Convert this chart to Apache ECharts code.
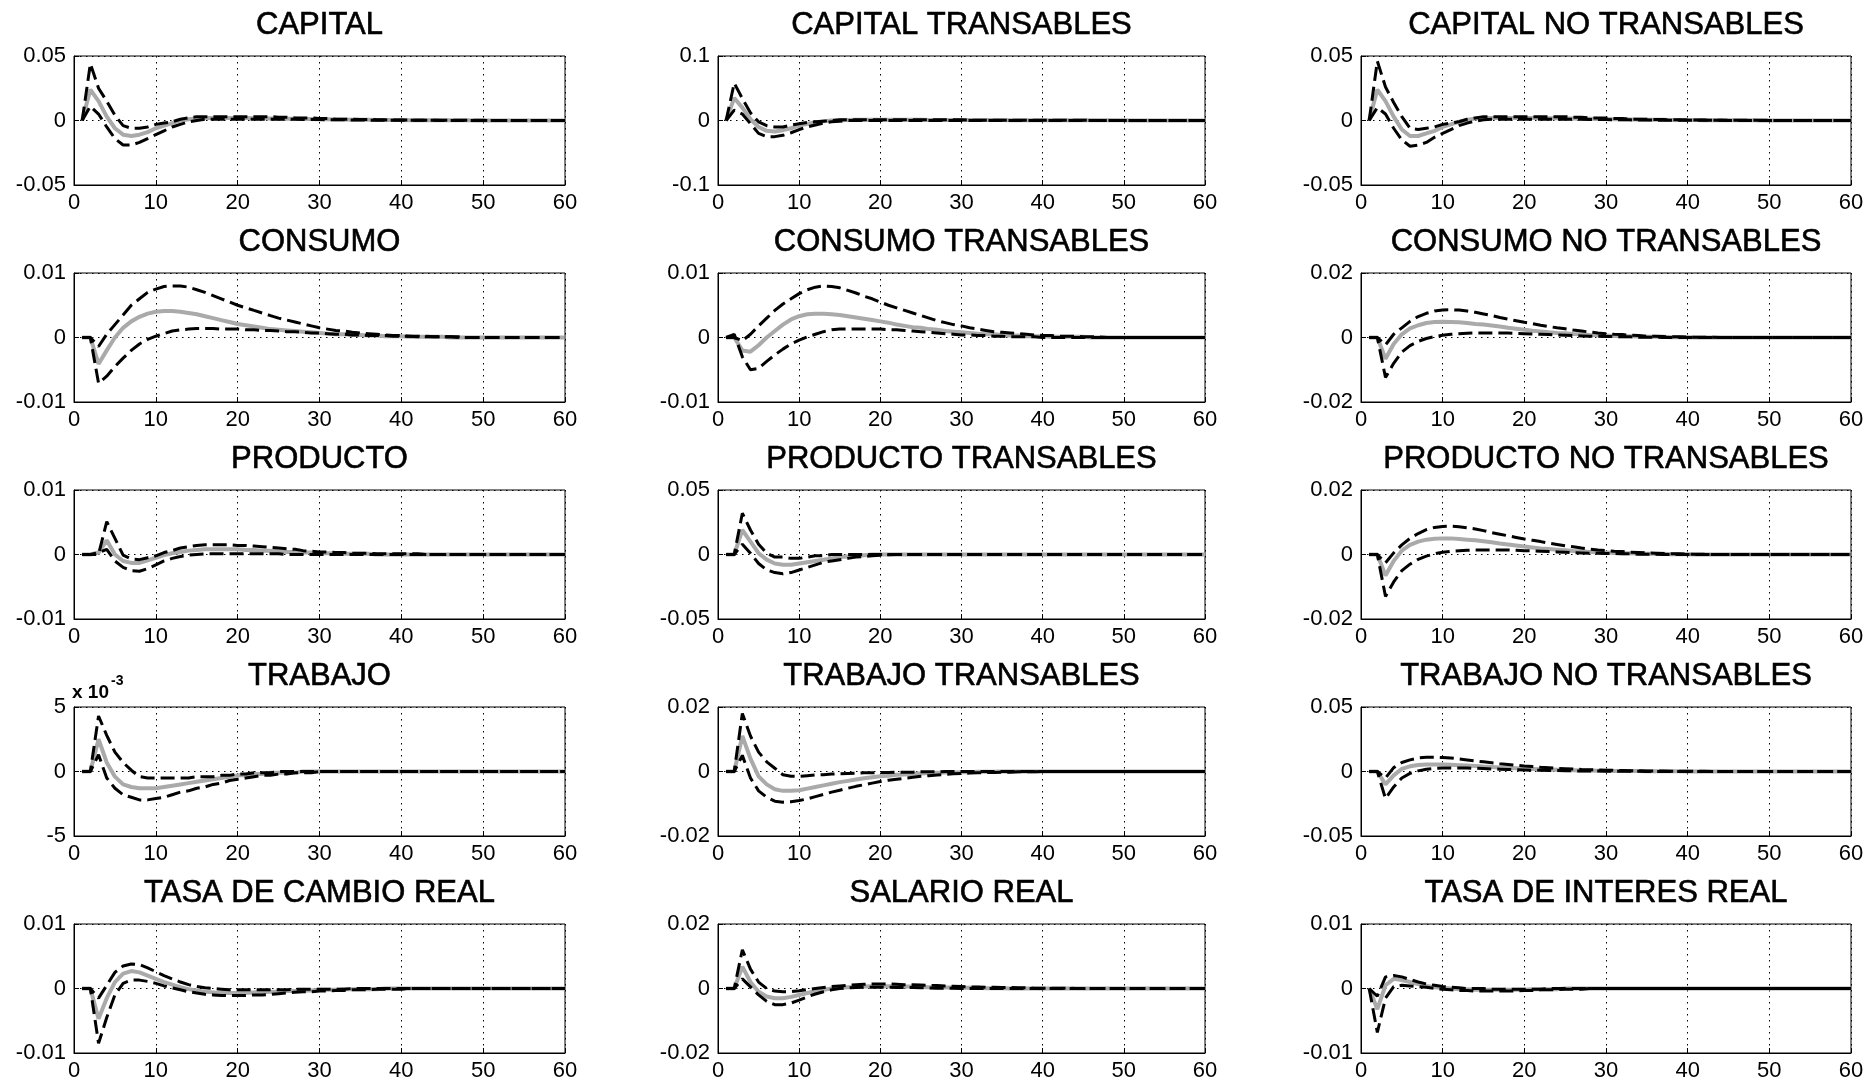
<!DOCTYPE html>
<html>
<head>
<meta charset="utf-8">
<title>Impulso-respuesta</title>
<script src="https://cdn.jsdelivr.net/npm/echarts@6/dist/echarts.min.js"></script>
<style>
  html, body { margin: 0; padding: 0; background: #fff; }
  #main { width: 1866px; height: 1083px; }
</style>
</head>
<body>
<div id="main"></div>
<script>
// periodos despues del choque
var periods = [
  1, 2, 3, 4, 5, 6, 7, 8, 9, 10,
  11, 12, 13, 14, 15, 16, 17, 18, 19, 20,
  21, 22, 23, 24, 25, 26, 27, 28, 29, 30,
  31, 32, 33, 34, 35, 36, 37, 38, 39, 40,
  41, 42, 43, 44, 45, 46, 47, 48, 49, 50,
  51, 52, 53, 54, 55, 56, 57, 58, 59, 60
];

// etiquetas de los ejes
var xTicks = ['0', '10', '20', '30', '40', '50', '60'];
var ticks005 = ['-0.05', '0', '0.05'];
var ticks01 = ['-0.1', '0', '0.1'];
var ticks001 = ['-0.01', '0', '0.01'];
var ticks002 = ['-0.02', '0', '0.02'];
var ticksE3 = ['-5', '0', '5'];

// CAPITAL
var capitalHi = [
  0, 0.044, 0.025, 0.015, 0.004, -0.004, -0.006, -0.006, -0.005, -0.003,
  -0.002, -0.001, 0.001, 0.002, 0.003, 0.003, 0.003, 0.003, 0.003, 0.003,
  0.003, 0.003, 0.003, 0.003, 0.0025, 0.0025, 0.002, 0.002, 0.002, 0.0015,
  0.0015, 0.001, 0.001, 0.001, 0.0008, 0.0008, 0.0006, 0.0005, 0.0004, 0.0003,
  0.0003, 0.0002, 0.0002, 0.0002, 0.0001, 0.0001, 0.0001, 0.0001, 0.0001, 0.0001,
  0, 0, 0, 0, 0, 0, 0, 0, 0, 0
];
var capitalMd = [
  0, 0.024, 0.015, 0.003, -0.006, -0.011, -0.012, -0.011, -0.009, -0.006,
  -0.004, -0.002, 0, 0.001, 0.0015, 0.002, 0.002, 0.002, 0.002, 0.002,
  0.002, 0.0018, 0.0017, 0.0016, 0.0015, 0.0014, 0.0013, 0.0012, 0.0011, 0.001,
  0.0009, 0.0008, 0.0007, 0.0006, 0.0006, 0.0005, 0.0004, 0.0004, 0.0003, 0.0003,
  0.0002, 0.0002, 0.0002, 0.0001, 0.0001, 0.0001, 0.0001, 0.0001, 0, 0,
  0, 0, 0, 0, 0, 0, 0, 0, 0, 0
];
var capitalLo = [
  0, 0.011, 0.005, -0.005, -0.014, -0.019, -0.019, -0.017, -0.014, -0.011,
  -0.008, -0.005, -0.003, -0.001, 0, 0.001, 0.001, 0.001, 0.001, 0.001,
  0.001, 0.001, 0.001, 0.001, 0.001, 0.001, 0.001, 0.0008, 0.0008, 0.0007,
  0.0006, 0.0005, 0.0005, 0.0004, 0.0003, 0.0003, 0.0002, 0.0002, 0.0002, 0.0001,
  0.0001, 0.0001, 0.0001, 0.0001, 0, 0, 0, 0, 0, 0,
  0, 0, 0, 0, 0, 0, 0, 0, 0, 0
];

// CAPITAL TRANSABLES
var capTHi = [
  0, 0.058, 0.034, 0.012, -0.002, -0.008, -0.01, -0.01, -0.007, -0.005,
  -0.003, -0.002, -0.001, 0, 0.001, 0.001, 0.001, 0.001, 0.001, 0.001,
  0.001, 0.001, 0.001, 0.001, 0.001, 0.001, 0.001, 0.001, 0.001, 0.001,
  0.0005, 0.0005, 0.0005, 0.0005, 0.0005, 0.0005, 0.0005, 0.0005, 0.0005, 0.0005,
  0.0005, 0.0005, 0.0005, 0.0005, 0.0005, 0, 0, 0, 0, 0,
  0, 0, 0, 0, 0, 0, 0, 0, 0, 0
];
var capTMd = [
  0, 0.035, 0.02, 0.002, -0.01, -0.016, -0.017, -0.015, -0.012, -0.008,
  -0.005, -0.003, -0.001, 0, 0.0005, 0.0008, 0.001, 0.001, 0.001, 0.001,
  0.001, 0.001, 0.001, 0.001, 0.001, 0.0008, 0.0008, 0.0008, 0.0008, 0.0008,
  0.0006, 0.0006, 0.0006, 0.0006, 0.0006, 0.0004, 0.0004, 0.0004, 0.0004, 0.0004,
  0.0003, 0.0003, 0.0003, 0.0003, 0.0003, 0.0002, 0.0002, 0.0002, 0.0002, 0.0002,
  0.0001, 0.0001, 0.0001, 0.0001, 0.0001, 0, 0, 0, 0, 0
];
var capTLo = [
  0, 0.016, 0.01, -0.005, -0.02, -0.025, -0.025, -0.023, -0.019, -0.014,
  -0.01, -0.007, -0.004, -0.002, -0.001, 0, 0, 0, 0, 0,
  0, 0, 0, 0, 0, 0, 0, 0, 0, 0,
  0, 0, 0, 0, 0, 0, 0, 0, 0, 0,
  0, 0, 0, 0, 0, 0, 0, 0, 0, 0,
  0, 0, 0, 0, 0, 0, 0, 0, 0, 0
];

// CAPITAL NO TRANSABLES
var capNHi = [
  0, 0.046, 0.026, 0.014, 0.003, -0.006, -0.007, -0.006, -0.005, -0.003,
  -0.002, -0.001, 0.001, 0.002, 0.003, 0.003, 0.003, 0.003, 0.003, 0.003,
  0.003, 0.003, 0.003, 0.003, 0.003, 0.0025, 0.0025, 0.002, 0.002, 0.002,
  0.0015, 0.0015, 0.001, 0.001, 0.001, 0.0008, 0.0007, 0.0006, 0.0005, 0.0004,
  0.0003, 0.0003, 0.0002, 0.0002, 0.0002, 0.0001, 0.0001, 0.0001, 0.0001, 0.0001,
  0, 0, 0, 0, 0, 0, 0, 0, 0, 0
];
var capNMd = [
  0, 0.024, 0.015, 0.003, -0.007, -0.012, -0.012, -0.01, -0.008, -0.005,
  -0.003, -0.001, 0.0005, 0.0015, 0.002, 0.002, 0.002, 0.002, 0.002, 0.002,
  0.002, 0.0019, 0.0018, 0.0017, 0.0016, 0.0015, 0.0014, 0.0013, 0.0012, 0.0011,
  0.001, 0.0009, 0.0008, 0.0007, 0.0006, 0.0005, 0.0005, 0.0004, 0.0004, 0.0003,
  0.0003, 0.0002, 0.0002, 0.0002, 0.0001, 0.0001, 0.0001, 0.0001, 0, 0,
  0, 0, 0, 0, 0, 0, 0, 0, 0, 0
];
var capNLo = [
  0, 0.01, 0.005, -0.006, -0.015, -0.02, -0.019, -0.017, -0.013, -0.01,
  -0.007, -0.004, -0.002, -0.0005, 0.0005, 0.001, 0.001, 0.001, 0.001, 0.001,
  0.001, 0.001, 0.001, 0.001, 0.001, 0.001, 0.0009, 0.0008, 0.0008, 0.0007,
  0.0006, 0.0005, 0.0005, 0.0004, 0.0003, 0.0003, 0.0002, 0.0002, 0.0002, 0.0001,
  0.0001, 0.0001, 0.0001, 0.0001, 0, 0, 0, 0, 0, 0,
  0, 0, 0, 0, 0, 0, 0, 0, 0, 0
];

// CONSUMO
var consHi = [
  0, 0, -0.0014, 0.0005, 0.002, 0.0035, 0.005, 0.006, 0.007, 0.0075,
  0.0079, 0.008, 0.008, 0.0078, 0.0074, 0.007, 0.0065, 0.006, 0.0055, 0.005,
  0.0046, 0.0042, 0.0038, 0.0034, 0.003, 0.0027, 0.0024, 0.0021, 0.0018, 0.0015,
  0.0013, 0.0011, 0.001, 0.0008, 0.0007, 0.0006, 0.0005, 0.0004, 0.0003, 0.0003,
  0.0002, 0.0002, 0.0002, 0.0001, 0.0001, 0.0001, 0.0001, 0, 0, 0,
  0, 0, 0, 0, 0, 0, 0, 0, 0, 0
];
var consMd = [
  0, 0, -0.0041, -0.002, 0, 0.0015, 0.0025, 0.0032, 0.0037, 0.004,
  0.0041, 0.0041, 0.004, 0.0038, 0.0036, 0.0033, 0.003, 0.0027, 0.0024, 0.0021,
  0.0019, 0.0017, 0.0015, 0.0013, 0.0012, 0.0011, 0.001, 0.0009, 0.0008, 0.0007,
  0.0006, 0.0005, 0.0005, 0.0004, 0.0004, 0.0003, 0.0003, 0.0002, 0.0002, 0.0002,
  0.0001, 0.0001, 0.0001, 0.0001, 0.0001, 0, 0, 0, 0, 0,
  0, 0, 0, 0, 0, 0, 0, 0, 0, 0
];
var consLo = [
  0, 0, -0.0071, -0.006, -0.0045, -0.0032, -0.002, -0.001, -0.0003, 0.0002,
  0.0006, 0.001, 0.0012, 0.0013, 0.0014, 0.0014, 0.0014, 0.0013, 0.0013, 0.0013,
  0.0012, 0.0012, 0.0011, 0.0011, 0.001, 0.0009, 0.0009, 0.0008, 0.0007, 0.0007,
  0.0006, 0.0005, 0.0005, 0.0004, 0.0004, 0.0003, 0.0003, 0.0003, 0.0002, 0.0002,
  0.0002, 0.0001, 0.0001, 0.0001, 0.0001, 0.0001, 0, 0, 0, 0,
  0, 0, 0, 0, 0, 0, 0, 0, 0, 0
];

// CONSUMO TRANSABLES
var consTHi = [
  0, 0, -0.0005, 0.0005, 0.0018, 0.003, 0.0042, 0.0052, 0.006, 0.0068,
  0.0074, 0.0078, 0.008, 0.0079, 0.0077, 0.0073, 0.0069, 0.0064, 0.006, 0.0055,
  0.005, 0.0046, 0.0042, 0.0038, 0.0034, 0.003, 0.0026, 0.0023, 0.002, 0.0018,
  0.0015, 0.0013, 0.0011, 0.0009, 0.0008, 0.0007, 0.0006, 0.0005, 0.0004, 0.0003,
  0.0003, 0.0002, 0.0002, 0.0002, 0.0001, 0.0001, 0.0001, 0, 0, 0,
  0, 0, 0, 0, 0, 0, 0, 0, 0, 0
];
var consTMd = [
  0, 0, -0.002, -0.0022, -0.0012, 0, 0.001, 0.002, 0.0028, 0.0033,
  0.0036, 0.0037, 0.0037, 0.0036, 0.0035, 0.0033, 0.0031, 0.0029, 0.0027, 0.0025,
  0.0023, 0.002, 0.0018, 0.0016, 0.0015, 0.0013, 0.0012, 0.001, 0.0009, 0.0008,
  0.0007, 0.0006, 0.0005, 0.0005, 0.0004, 0.0003, 0.0003, 0.0002, 0.0002, 0.0002,
  0.0001, 0.0001, 0.0001, 0.0001, 0.0001, 0, 0, 0, 0, 0,
  0, 0, 0, 0, 0, 0, 0, 0, 0, 0
];
var consTLo = [
  0, 0.0005, -0.003, -0.005, -0.0048, -0.0037, -0.0027, -0.0018, -0.001, -0.0004,
  0.0001, 0.0005, 0.0009, 0.0012, 0.0013, 0.0013, 0.0013, 0.0013, 0.0013, 0.0013,
  0.0012, 0.0012, 0.0011, 0.001, 0.0009, 0.0008, 0.0007, 0.0006, 0.0005, 0.0004,
  0.0004, 0.0003, 0.0003, 0.0002, 0.0002, 0.0001, 0.0001, 0.0001, 0.0001, 0,
  0, 0, 0, 0, 0, 0, 0, 0, 0, 0,
  0, 0, 0, 0, 0, 0, 0, 0, 0, 0
];

// CONSUMO NO TRANSABLES
var consNHi = [
  0, 0, -0.0023, 0.001, 0.003, 0.005, 0.0065, 0.0075, 0.0082, 0.0085,
  0.0086, 0.0085, 0.0082, 0.0078, 0.0073, 0.0068, 0.0062, 0.0057, 0.0052, 0.0047,
  0.0043, 0.0038, 0.0034, 0.003, 0.0027, 0.0023, 0.002, 0.0017, 0.0014, 0.0012,
  0.001, 0.0009, 0.0007, 0.0006, 0.0004, 0.0004, 0.0003, 0.0002, 0.0002, 0.0001,
  0.0001, 0.0001, 0.0001, 0, 0, 0, 0, 0, 0, 0,
  0, 0, 0, 0, 0, 0, 0, 0, 0, 0
];
var consNMd = [
  0, 0, -0.0066, -0.002, 0.001, 0.0028, 0.0038, 0.0045, 0.0048, 0.0049,
  0.0048, 0.0047, 0.0045, 0.0042, 0.004, 0.0037, 0.0034, 0.003, 0.0027, 0.0024,
  0.0021, 0.0019, 0.0016, 0.0014, 0.0013, 0.0011, 0.001, 0.0008, 0.0007, 0.0006,
  0.0005, 0.0004, 0.0004, 0.0003, 0.0002, 0.0002, 0.0002, 0.0001, 0.0001, 0.0001,
  0, 0, 0, 0, 0, 0, 0, 0, 0, 0,
  0, 0, 0, 0, 0, 0, 0, 0, 0, 0
];
var consNLo = [
  0, 0, -0.0124, -0.008, -0.0045, -0.0025, -0.0012, -0.0003, 0.0003, 0.0007,
  0.001, 0.0012, 0.0013, 0.0014, 0.0014, 0.0014, 0.0014, 0.0014, 0.0013, 0.0012,
  0.0011, 0.001, 0.0009, 0.0008, 0.0007, 0.0006, 0.0005, 0.0004, 0.0004, 0.0003,
  0.0003, 0.0002, 0.0002, 0.0001, 0.0001, 0.0001, 0, 0, 0, 0,
  0, 0, 0, 0, 0, 0, 0, 0, 0, 0,
  0, 0, 0, 0, 0, 0, 0, 0, 0, 0
];

// PRODUCTO
var prodHi = [
  0, 0, 0, 0.0051, 0.0025, -0.0001, -0.0007, -0.0008, -0.0005, -0.0002,
  0.0003, 0.0006, 0.001, 0.0012, 0.0014, 0.0015, 0.0015, 0.0015, 0.0015, 0.0014,
  0.0014, 0.0013, 0.0012, 0.0011, 0.001, 0.0009, 0.0008, 0.0006, 0.0005, 0.0004,
  0.0004, 0.0003, 0.0003, 0.0002, 0.0002, 0.0002, 0.0001, 0.0001, 0.0001, 0.0001,
  0.0001, 0.0001, 0, 0, 0, 0, 0, 0, 0, 0,
  0, 0, 0, 0, 0, 0, 0, 0, 0, 0
];
var prodMd = [
  0, 0, 0.0003, 0.0022, 0, -0.001, -0.0013, -0.0013, -0.0009, -0.0005,
  -0.0001, 0.0002, 0.0004, 0.0006, 0.0007, 0.0008, 0.0008, 0.0008, 0.0008, 0.0008,
  0.0007, 0.0007, 0.0006, 0.0006, 0.0005, 0.0004, 0.0004, 0.0003, 0.0003, 0.0002,
  0.0002, 0.0002, 0.0001, 0.0001, 0.0001, 0.0001, 0, 0, 0, 0,
  0, 0, 0, 0, 0, 0, 0, 0, 0, 0,
  0, 0, 0, 0, 0, 0, 0, 0, 0, 0
];
var prodLo = [
  0, 0, 0.0003, 0.0008, -0.001, -0.002, -0.0025, -0.0026, -0.0022, -0.0016,
  -0.001, -0.0006, -0.0003, -0.0001, 0, 0.0001, 0.0001, 0.0001, 0.0001, 0.0001,
  0.0001, 0.0001, 0.0001, 0.0001, 0.0001, 0, 0, 0, 0, 0,
  0, 0, 0, 0, 0, 0, 0, 0, 0, 0,
  0, 0, 0, 0, 0, 0, 0, 0, 0, 0,
  0, 0, 0, 0, 0, 0, 0, 0, 0, 0
];

// PRODUCTO TRANSABLES
var prodTHi = [
  0, 0, 0.032, 0.019, 0.008, 0.001, -0.002, -0.002, -0.003, -0.003,
  -0.002, -0.001, -0.001, 0, 0, 0, 0, 0, 0, 0,
  0, 0, 0, 0, 0, 0, 0, 0, 0, 0,
  0, 0, 0, 0, 0, 0, 0, 0, 0, 0,
  0, 0, 0, 0, 0, 0, 0, 0, 0, 0,
  0, 0, 0, 0, 0, 0, 0, 0, 0, 0
];
var prodTMd = [
  0, 0, 0.019, 0.01, 0.001, -0.004, -0.007, -0.008, -0.008, -0.007,
  -0.006, -0.005, -0.004, -0.003, -0.002, -0.0015, -0.001, -0.0005, 0, 0,
  0, 0, 0, 0, 0, 0, 0, 0, 0, 0,
  0, 0, 0, 0, 0, 0, 0, 0, 0, 0,
  0, 0, 0, 0, 0, 0, 0, 0, 0, 0,
  0, 0, 0, 0, 0, 0, 0, 0, 0, 0
];
var prodTLo = [
  0, 0, 0.008, 0.001, -0.007, -0.012, -0.014, -0.015, -0.014, -0.012,
  -0.01, -0.008, -0.006, -0.005, -0.004, -0.003, -0.002, -0.0015, -0.001, -0.0005,
  -0.0002, 0, 0, 0, 0, 0, 0, 0, 0, 0,
  0, 0, 0, 0, 0, 0, 0, 0, 0, 0,
  0, 0, 0, 0, 0, 0, 0, 0, 0, 0,
  0, 0, 0, 0, 0, 0, 0, 0, 0, 0
];

// PRODUCTO NO TRANSABLES
var prodNHi = [
  0, 0, -0.0026, 0.0005, 0.003, 0.005, 0.0065, 0.0077, 0.0084, 0.0087,
  0.0088, 0.0086, 0.0083, 0.0079, 0.0074, 0.0068, 0.0063, 0.0058, 0.0053, 0.0048,
  0.0044, 0.004, 0.0035, 0.0031, 0.0027, 0.0024, 0.002, 0.0017, 0.0014, 0.0012,
  0.001, 0.0009, 0.0007, 0.0006, 0.0005, 0.0004, 0.0003, 0.0002, 0.0002, 0.0001,
  0.0001, 0.0001, 0, 0, 0, 0, 0, 0, 0, 0,
  0, 0, 0, 0, 0, 0, 0, 0, 0, 0
];
var prodNMd = [
  0, 0, -0.0065, -0.002, 0.0012, 0.003, 0.004, 0.0046, 0.0049, 0.005,
  0.005, 0.0048, 0.0046, 0.0044, 0.0041, 0.0038, 0.0034, 0.0031, 0.0028, 0.0025,
  0.0022, 0.0019, 0.0017, 0.0015, 0.0013, 0.0011, 0.001, 0.0008, 0.0007, 0.0006,
  0.0005, 0.0004, 0.0004, 0.0003, 0.0002, 0.0002, 0.0002, 0.0001, 0.0001, 0.0001,
  0, 0, 0, 0, 0, 0, 0, 0, 0, 0,
  0, 0, 0, 0, 0, 0, 0, 0, 0, 0
];
var prodNLo = [
  0, 0, -0.013, -0.0085, -0.005, -0.003, -0.0015, -0.0005, 0.0002, 0.0007,
  0.001, 0.0012, 0.0013, 0.0014, 0.0014, 0.0014, 0.0014, 0.0014, 0.0013, 0.0012,
  0.0011, 0.001, 0.0009, 0.0008, 0.0007, 0.0006, 0.0005, 0.0004, 0.0004, 0.0003,
  0.0003, 0.0002, 0.0002, 0.0001, 0.0001, 0.0001, 0, 0, 0, 0,
  0, 0, 0, 0, 0, 0, 0, 0, 0, 0,
  0, 0, 0, 0, 0, 0, 0, 0, 0, 0
];

// TRABAJO
var trabHi = [
  0, 0, 0.0043, 0.0028, 0.0015, 0.0007, 0.0001, -0.0004, -0.0005, -0.0005,
  -0.0005, -0.0005, -0.0005, -0.0005, -0.0004, -0.0004, -0.0004, -0.0003, -0.0003, -0.0002,
  -0.0002, -0.0001, -0.0001, -0.0001, 0, 0, 0, 0, 0, 0,
  0, 0, 0, 0, 0, 0, 0, 0, 0, 0,
  0, 0, 0, 0, 0, 0, 0, 0, 0, 0,
  0, 0, 0, 0, 0, 0, 0, 0, 0, 0
];
var trabMd = [
  0, 0, 0.0025, 0.0007, -0.0004, -0.001, -0.0012, -0.0013, -0.0013, -0.0013,
  -0.0012, -0.0011, -0.001, -0.0009, -0.0008, -0.0007, -0.0006, -0.0005, -0.0004, -0.0003,
  -0.0003, -0.0002, -0.0002, -0.0001, -0.0001, -0.0001, -0.0001, 0, 0, 0,
  0, 0, 0, 0, 0, 0, 0, 0, 0, 0,
  0, 0, 0, 0, 0, 0, 0, 0, 0, 0,
  0, 0, 0, 0, 0, 0, 0, 0, 0, 0
];
var trabLo = [
  0, 0, 0.0013, -0.0005, -0.0013, -0.0018, -0.002, -0.0022, -0.0022, -0.0021,
  -0.002, -0.0018, -0.0016, -0.0015, -0.0013, -0.0012, -0.001, -0.0009, -0.0007, -0.0006,
  -0.0005, -0.0004, -0.0003, -0.0003, -0.0002, -0.0002, -0.0001, -0.0001, -0.0001, 0,
  0, 0, 0, 0, 0, 0, 0, 0, 0, 0,
  0, 0, 0, 0, 0, 0, 0, 0, 0, 0,
  0, 0, 0, 0, 0, 0, 0, 0, 0, 0
];

// TRABAJO TRANSABLES
var trabTHi = [
  0, 0, 0.018, 0.011, 0.006, 0.003, 0.001, -0.001, -0.0015, -0.0015,
  -0.0013, -0.0011, -0.001, -0.0008, -0.0007, -0.0006, -0.0005, -0.0004, -0.0004, -0.0003,
  -0.0003, -0.0002, -0.0002, -0.0002, -0.0001, -0.0001, -0.0001, 0, 0, 0,
  0, 0, 0, 0, 0, 0, 0, 0, 0, 0,
  0, 0, 0, 0, 0, 0, 0, 0, 0, 0,
  0, 0, 0, 0, 0, 0, 0, 0, 0, 0
];
var trabTMd = [
  0, 0, 0.011, 0.004, -0.0015, -0.004, -0.0055, -0.006, -0.006, -0.0058,
  -0.0053, -0.0048, -0.0043, -0.0038, -0.0033, -0.0029, -0.0025, -0.0021, -0.0018, -0.0015,
  -0.0013, -0.001, -0.0009, -0.0007, -0.0006, -0.0005, -0.0004, -0.0003, -0.0003, -0.0002,
  -0.0002, -0.0001, -0.0001, -0.0001, 0, 0, 0, 0, 0, 0,
  0, 0, 0, 0, 0, 0, 0, 0, 0, 0,
  0, 0, 0, 0, 0, 0, 0, 0, 0, 0
];
var trabTLo = [
  0, 0, 0.005, -0.002, -0.006, -0.008, -0.0092, -0.0095, -0.0094, -0.009,
  -0.0085, -0.0078, -0.0071, -0.0064, -0.0058, -0.0052, -0.0046, -0.0041, -0.0036, -0.0031,
  -0.0027, -0.0024, -0.0021, -0.0018, -0.0015, -0.0013, -0.0011, -0.0009, -0.0007, -0.0006,
  -0.0005, -0.0004, -0.0003, -0.0003, -0.0002, -0.0002, -0.0001, -0.0001, -0.0001, 0,
  0, 0, 0, 0, 0, 0, 0, 0, 0, 0,
  0, 0, 0, 0, 0, 0, 0, 0, 0, 0
];

// TRABAJO NO TRANSABLES
var trabNHi = [
  0, 0, -0.005, 0.003, 0.007, 0.009, 0.0105, 0.011, 0.011, 0.0108,
  0.0104, 0.0098, 0.009, 0.0082, 0.0075, 0.0068, 0.006, 0.0054, 0.0048, 0.0042,
  0.0038, 0.0033, 0.0029, 0.0025, 0.0022, 0.0019, 0.0016, 0.0014, 0.0012, 0.001,
  0.0009, 0.0008, 0.0006, 0.0005, 0.0004, 0.0004, 0.0003, 0.0002, 0.0002, 0.0001,
  0.0001, 0.0001, 0, 0, 0, 0, 0, 0, 0, 0,
  0, 0, 0, 0, 0, 0, 0, 0, 0, 0
];
var trabNMd = [
  0, 0, -0.01, -0.003, 0.002, 0.004, 0.005, 0.0055, 0.0055, 0.0054,
  0.0052, 0.0049, 0.0046, 0.0042, 0.0038, 0.0035, 0.0031, 0.0028, 0.0025, 0.0022,
  0.002, 0.0017, 0.0015, 0.0013, 0.0011, 0.001, 0.0008, 0.0007, 0.0006, 0.0005,
  0.0004, 0.0004, 0.0003, 0.0003, 0.0002, 0.0002, 0.0002, 0.0001, 0.0001, 0,
  0, 0, 0, 0, 0, 0, 0, 0, 0, 0,
  0, 0, 0, 0, 0, 0, 0, 0, 0, 0
];
var trabNLo = [
  0, 0, -0.021, -0.012, -0.005, -0.0015, 0.0005, 0.0017, 0.0023, 0.0027,
  0.0028, 0.0028, 0.0027, 0.0025, 0.0023, 0.002, 0.0018, 0.0016, 0.0014, 0.0012,
  0.001, 0.0009, 0.0008, 0.0007, 0.0006, 0.0005, 0.0004, 0.0003, 0.0003, 0.0002,
  0.0002, 0.0001, 0.0001, 0.0001, 0, 0, 0, 0, 0, 0,
  0, 0, 0, 0, 0, 0, 0, 0, 0, 0,
  0, 0, 0, 0, 0, 0, 0, 0, 0, 0
];

// TASA DE CAMBIO REAL
var tcrHi = [
  0, 0, -0.0015, 0.0005, 0.0025, 0.0035, 0.0038, 0.0037, 0.0032, 0.0026,
  0.002, 0.0015, 0.001, 0.0006, 0.0003, 0.0001, 0, -0.0001, -0.0002, -0.0002,
  -0.0002, -0.0002, -0.0002, -0.0002, -0.0002, -0.0002, -0.0001, -0.0001, -0.0001, -0.0001,
  -0.0001, -0.0001, -0.0001, 0, 0, 0, 0, 0, 0, 0,
  0, 0, 0, 0, 0, 0, 0, 0, 0, 0,
  0, 0, 0, 0, 0, 0, 0, 0, 0, 0
];
var tcrMd = [
  0, 0, -0.0047, -0.0015, 0.001, 0.0023, 0.0027, 0.0025, 0.002, 0.0015,
  0.001, 0.0006, 0.0002, -0.0001, -0.0003, -0.0005, -0.0006, -0.0007, -0.0007, -0.0007,
  -0.0007, -0.0006, -0.0006, -0.0005, -0.0005, -0.0004, -0.0004, -0.0003, -0.0003, -0.0002,
  -0.0002, -0.0002, -0.0001, -0.0001, -0.0001, -0.0001, -0.0001, 0, 0, 0,
  0, 0, 0, 0, 0, 0, 0, 0, 0, 0,
  0, 0, 0, 0, 0, 0, 0, 0, 0, 0
];
var tcrLo = [
  0, 0, -0.0085, -0.0045, -0.001, 0.0008, 0.0013, 0.0013, 0.0011, 0.0008,
  0.0004, 0.0001, -0.0002, -0.0005, -0.0007, -0.0009, -0.001, -0.0011, -0.0011, -0.0011,
  -0.0011, -0.001, -0.001, -0.0009, -0.0008, -0.0007, -0.0006, -0.0005, -0.0005, -0.0004,
  -0.0004, -0.0003, -0.0003, -0.0002, -0.0002, -0.0002, -0.0001, -0.0001, -0.0001, -0.0001,
  0, 0, 0, 0, 0, 0, 0, 0, 0, 0,
  0, 0, 0, 0, 0, 0, 0, 0, 0, 0
];

// SALARIO REAL
var salHi = [
  0, 0, 0.012, 0.006, 0.002, 0, -0.0008, -0.001, -0.001, -0.0007,
  -0.0003, 0, 0.0003, 0.0006, 0.0008, 0.001, 0.0012, 0.0013, 0.0014, 0.0014,
  0.0014, 0.0013, 0.0012, 0.0012, 0.0011, 0.001, 0.0009, 0.0008, 0.0007, 0.0006,
  0.0005, 0.0005, 0.0004, 0.0004, 0.0003, 0.0003, 0.0002, 0.0002, 0.0001, 0.0001,
  0.0001, 0.0001, 0.0001, 0, 0, 0, 0, 0, 0, 0,
  0, 0, 0, 0, 0, 0, 0, 0, 0, 0
];
var salMd = [
  0, 0, 0.0068, 0.002, -0.001, -0.0025, -0.003, -0.003, -0.0026, -0.002,
  -0.0014, -0.0008, -0.0004, 0, 0.0002, 0.0004, 0.0005, 0.0006, 0.0007, 0.0007,
  0.0007, 0.0006, 0.0006, 0.0006, 0.0005, 0.0004, 0.0004, 0.0003, 0.0003, 0.0002,
  0.0002, 0.0002, 0.0001, 0.0001, 0.0001, 0, 0, 0, 0, 0,
  0, 0, 0, 0, 0, 0, 0, 0, 0, 0,
  0, 0, 0, 0, 0, 0, 0, 0, 0, 0
];
var salLo = [
  0, 0, 0.003, 0.0005, -0.002, -0.004, -0.005, -0.005, -0.0045, -0.0036,
  -0.0026, -0.0017, -0.001, -0.0004, 0, 0.0002, 0.0003, 0.0004, 0.0004, 0.0004,
  0.0004, 0.0003, 0.0003, 0.0003, 0.0002, 0.0002, 0.0001, 0.0001, 0.0001, 0,
  0, 0, 0, 0, 0, 0, 0, 0, 0, 0,
  0, 0, 0, 0, 0, 0, 0, 0, 0, 0,
  0, 0, 0, 0, 0, 0, 0, 0, 0, 0
];

// TASA DE INTERES REAL
var tirHi = [
  0, -0.0012, 0.0018, 0.002, 0.0018, 0.0014, 0.001, 0.0007, 0.0005, 0.0003,
  0.0002, 0.0001, 0, 0, 0, -0.0001, -0.0001, -0.0001, -0.0001, -0.0001,
  -0.0001, -0.0001, 0, 0, 0, 0, 0, 0, 0, 0,
  0, 0, 0, 0, 0, 0, 0, 0, 0, 0,
  0, 0, 0, 0, 0, 0, 0, 0, 0, 0,
  0, 0, 0, 0, 0, 0, 0, 0, 0, 0
];
var tirMd = [
  0, -0.0032, 0.0005, 0.0015, 0.0013, 0.001, 0.0007, 0.0004, 0.0002, 0.0001,
  0, -0.0001, -0.0001, -0.0002, -0.0002, -0.0002, -0.0002, -0.0002, -0.0002, -0.0002,
  -0.0001, -0.0001, -0.0001, -0.0001, 0, 0, 0, 0, 0, 0,
  0, 0, 0, 0, 0, 0, 0, 0, 0, 0,
  0, 0, 0, 0, 0, 0, 0, 0, 0, 0,
  0, 0, 0, 0, 0, 0, 0, 0, 0, 0
];
var tirLo = [
  0, -0.0068, -0.0015, 0.0003, 0.0005, 0.0004, 0.0003, 0.0002, 0, -0.0001,
  -0.0002, -0.0003, -0.0003, -0.0004, -0.0004, -0.0004, -0.0004, -0.0004, -0.0004, -0.0003,
  -0.0003, -0.0002, -0.0002, -0.0002, -0.0001, -0.0001, -0.0001, 0, 0, 0,
  0, 0, 0, 0, 0, 0, 0, 0, 0, 0,
  0, 0, 0, 0, 0, 0, 0, 0, 0, 0,
  0, 0, 0, 0, 0, 0, 0, 0, 0, 0
];

// paneles, fila por fila
var panels = [
  { name: 'CAPITAL', hi: capitalHi, md: capitalMd, lo: capitalLo, yMax: 0.05, ticks: ticks005 },
  { name: 'CAPITAL TRANSABLES', hi: capTHi, md: capTMd, lo: capTLo, yMax: 0.1, ticks: ticks01 },
  { name: 'CAPITAL NO TRANSABLES', hi: capNHi, md: capNMd, lo: capNLo, yMax: 0.05, ticks: ticks005 },
  { name: 'CONSUMO', hi: consHi, md: consMd, lo: consLo, yMax: 0.01, ticks: ticks001 },
  { name: 'CONSUMO TRANSABLES', hi: consTHi, md: consTMd, lo: consTLo, yMax: 0.01, ticks: ticks001 },
  { name: 'CONSUMO NO TRANSABLES', hi: consNHi, md: consNMd, lo: consNLo, yMax: 0.02, ticks: ticks002 },
  { name: 'PRODUCTO', hi: prodHi, md: prodMd, lo: prodLo, yMax: 0.01, ticks: ticks001 },
  { name: 'PRODUCTO TRANSABLES', hi: prodTHi, md: prodTMd, lo: prodTLo, yMax: 0.05, ticks: ticks005 },
  { name: 'PRODUCTO NO TRANSABLES', hi: prodNHi, md: prodNMd, lo: prodNLo, yMax: 0.02, ticks: ticks002 },
  { name: 'TRABAJO', hi: trabHi, md: trabMd, lo: trabLo, yMax: 0.005, ticks: ticksE3 },
  { name: 'TRABAJO TRANSABLES', hi: trabTHi, md: trabTMd, lo: trabTLo, yMax: 0.02, ticks: ticks002 },
  { name: 'TRABAJO NO TRANSABLES', hi: trabNHi, md: trabNMd, lo: trabNLo, yMax: 0.05, ticks: ticks005 },
  { name: 'TASA DE CAMBIO REAL', hi: tcrHi, md: tcrMd, lo: tcrLo, yMax: 0.01, ticks: ticks001 },
  { name: 'SALARIO REAL', hi: salHi, md: salMd, lo: salLo, yMax: 0.02, ticks: ticks002 },
  { name: 'TASA DE INTERES REAL', hi: tirHi, md: tirMd, lo: tirLo, yMax: 0.01, ticks: ticks001 }
];

// disposicion de la figura (pixeles)
var colLeft = [74, 718, 1361];
var colWidth = [491, 487, 490];
var rowTop = [56, 273, 490, 707, 924];
var boxHeight = 129;

var FONT = "'Liberation Sans', Arial, sans-serif";
var dotted = [1.5, 4.5];

var grids = [], xAxes = [], yAxes = [], titles = [], series = [];

function pairs(vals) {
  return periods.map(function (p, k) { return [p, vals[k]]; });
}

panels.forEach(function (pn, i) {
  var c = i % 3, r = Math.floor(i / 3);
  var left = colLeft[c], top = rowTop[r], w = colWidth[c];

  grids.push({
    left: left, top: top, width: w, height: boxHeight,
    show: true, borderColor: '#000', borderWidth: 1, backgroundColor: '#fff',
    containLabel: false, outerBoundsMode: 'none'
  });

  xAxes.push({
    type: 'value', gridIndex: i, min: 0, max: 60, interval: 10,
    axisLine: { show: true, onZero: false, lineStyle: { color: '#000', width: 1 } },
    axisTick: { show: true, inside: true, length: 5, lineStyle: { color: '#000' } },
    axisLabel: {
      color: '#000', fontSize: 22, fontFamily: FONT, margin: 7,
      formatter: function (v, idx) { return xTicks[idx]; }
    },
    splitLine: { show: true, lineStyle: { color: '#000', width: 1, type: dotted } }
  });

  yAxes.push({
    type: 'value', gridIndex: i, min: -pn.yMax, max: pn.yMax, interval: pn.yMax,
    axisLine: { show: true, onZero: false, lineStyle: { color: '#000', width: 1 } },
    axisTick: { show: true, inside: true, length: 5, lineStyle: { color: '#000' } },
    axisLabel: {
      color: '#000', fontSize: 22, fontFamily: FONT, margin: 8,
      formatter: function (v, idx) { return pn.ticks[idx]; }
    },
    splitLine: { show: true, lineStyle: { color: '#000', width: 1, type: dotted } }
  });

  titles.push({
    text: pn.name, left: left + w / 2, top: top - 47, textAlign: 'center', padding: 0,
    textStyle: {
      fontSize: 31, fontWeight: 'normal', fontFamily: FONT, color: '#000', lineHeight: 33,
      textBorderColor: '#000', textBorderWidth: 0.6
    }
  });

  series.push({
    type: 'line', xAxisIndex: i, yAxisIndex: i, data: pairs(pn.md),
    showSymbol: false, symbol: 'none', silent: true, z: 3,
    lineStyle: { color: '#aaaaaa', width: 4 }
  });
  [pn.hi, pn.lo].forEach(function (band) {
    series.push({
      type: 'line', xAxisIndex: i, yAxisIndex: i, data: pairs(band),
      showSymbol: false, symbol: 'none', silent: true, z: 4,
      lineStyle: { color: '#000', width: 3, type: [14, 6] }
    });
  });
});

// factor de escala del panel TRABAJO
titles.push({
  text: '{a|x 10}{b|-3}', left: 72, top: 674, padding: 0,
  textStyle: {
    rich: {
      a: { fontSize: 19, fontFamily: FONT, color: '#000', lineHeight: 28, verticalAlign: 'bottom' },
      b: { fontSize: 14, fontFamily: FONT, color: '#000', lineHeight: 28, verticalAlign: 'top', padding: [0, 0, 12, 2] }
    }
  }
});

var chart = echarts.init(document.getElementById('main'));
chart.setOption({
  backgroundColor: '#fff',
  animation: false,
  title: titles,
  grid: grids,
  xAxis: xAxes,
  yAxis: yAxes,
  series: series
});
</script>
</body>
</html>
